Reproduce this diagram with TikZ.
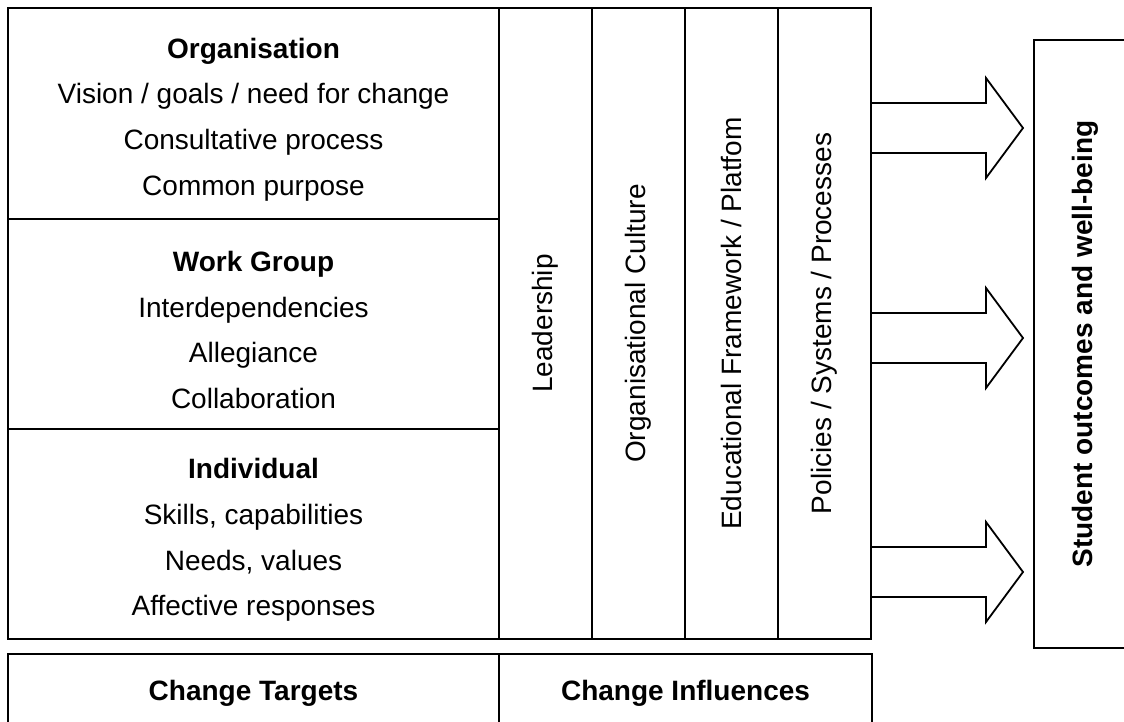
\documentclass[tikz,border=0pt]{standalone}
\usepackage{fontspec}
\setmainfont{Liberation Sans}
\usetikzlibrary{positioning}
\tikzstyle{box} = [draw,line width=0.9pt,outer sep=0pt,inner sep=0pt,anchor=north west]
\tikzstyle{target} = [box,minimum width=245.5pt]
\tikzstyle{influence} = [box,minimum width=46.5pt,minimum height=315.5pt]
\tikzstyle{targettext} = [align=center,font=\fontsize{14}{22.8}\selectfont]
\tikzstyle{vtext} = [rotate=90,font=\fontsize{14}{17}\selectfont]
\tikzstyle{flow} = [line width=0.9pt,line join=miter]

\begin{document}
\begin{tikzpicture}[x=0.5pt,y=-0.5pt]
		\useasboundingbox (0,0) rectangle (1124,722);
		\clip (0,0) rectangle (1124,722);
		\node [target,minimum height=105.5pt](org) at (8,8){};
		\node [target,minimum height=105pt,below=0pt of org](grp){};
		\node [target,minimum height=105pt,below=0pt of grp](ind){};
		\node [targettext](orgtext) at ([yshift=-3pt]org.center){\textbf{Organisation}\\Vision / goals / need for change\\Consultative process\\Common purpose};
		\node [targettext](grptext) at ([yshift=-3pt]grp.center){\textbf{Work Group}\\Interdependencies\\Allegiance\\Collaboration};
		\node [targettext](indtext) at ([yshift=-3pt]ind.center){\textbf{Individual}\\Skills, capabilities\\Needs, values\\Affective responses};
		
		\node [influence](lead) at (org.north east){};
		\node [influence,right=0pt of lead](cult){};
		\node [influence,right=0pt of cult](frame){};
		\node [influence,right=0pt of frame](pol){};
		\node [vtext](leadtext) at (lead){Leadership};
		\node [vtext](culttext) at (cult){Organisational Culture};
		\node [vtext](frametext) at (frame){Educational Framework / Platfom};
		\node [vtext](poltext) at (pol){Policies / Systems / Processes};
		
		\node [target,minimum height=39pt,font=\fontsize{14}{17}\selectfont\bfseries](targ) at (8,654){Change Targets};
		\node [box,minimum width=186.5pt,minimum height=39pt,font=\fontsize{14}{17}\selectfont\bfseries,right=0pt of targ](infl){Change Influences};
		
		\node [box,minimum width=51pt,minimum height=304pt](out) at (1034,40){};
		\node [vtext,font=\fontsize{14}{17}\selectfont\bfseries](outtext) at (out){Student outcomes and well-being};
		
		\foreach \y in {128,338,572}
		\draw[flow](pol.east |- 0,\y) ++(0,-25) -- ++(115,0) -- ++(0,-25) -- ++(37,50) -- ++(-37,50) -- ++(0,-25) -- ++(-115,0);
		\end{tikzpicture}
\end{document}
